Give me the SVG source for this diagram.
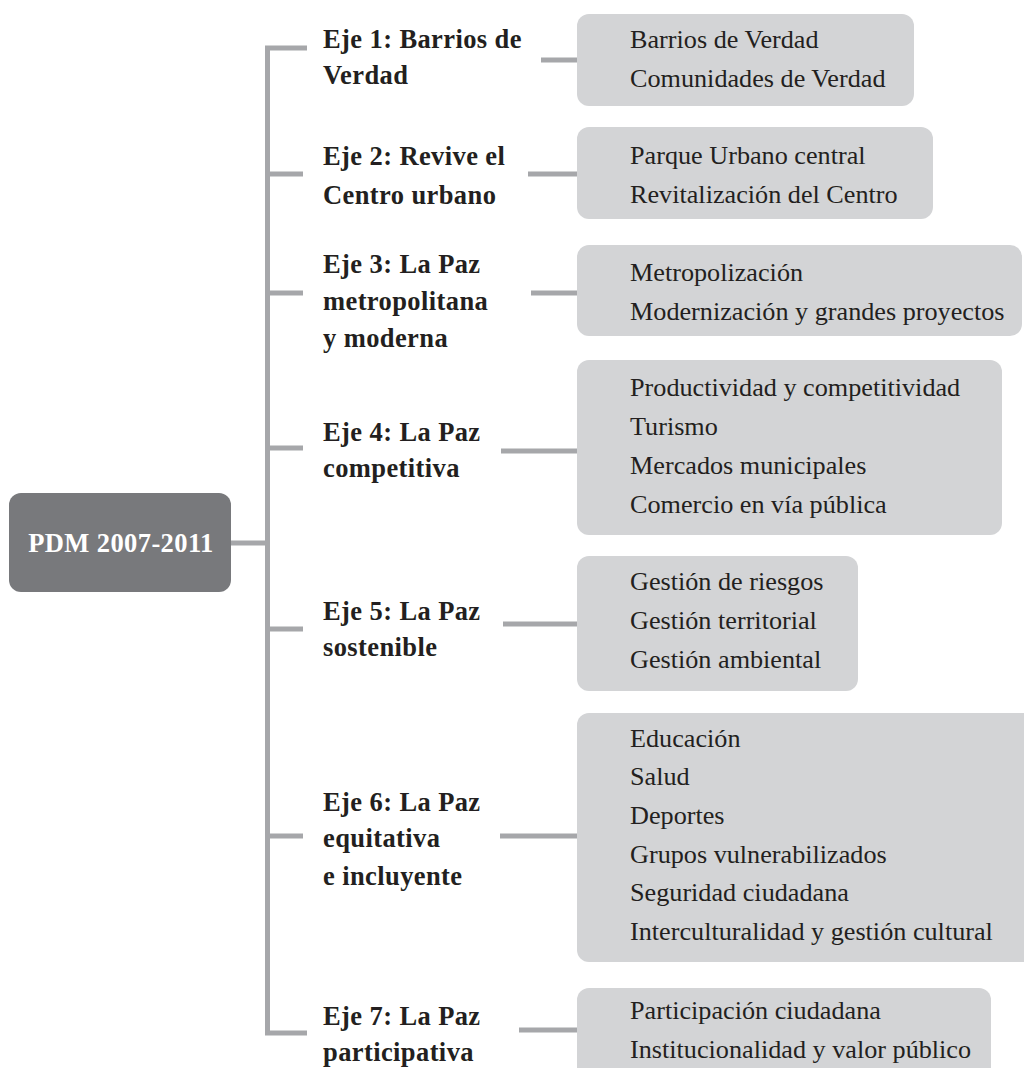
<svg xmlns="http://www.w3.org/2000/svg" width="1024" height="1068" viewBox="0 0 1024 1068">
<style>
.box{fill:#d3d4d6}
.root{fill:#78797c}
.ln{stroke:#a6a7aa;stroke-width:5;fill:none}
.lab{font-family:"Liberation Serif",serif;font-weight:bold;font-size:26.5px;letter-spacing:0.4px;fill:#231f20}
.it{font-family:"Liberation Serif",serif;font-size:26.2px;fill:#231f20}
.rt{font-family:"Liberation Serif",serif;font-weight:bold;font-size:26.5px;letter-spacing:0.4px;fill:#ffffff}
</style>
<rect width="1024" height="1068" fill="#ffffff"/>
<g id="connectors">
<path class="ln" d="M231 543H267.5M307 48H267.5V1033H307"/>
<path class="ln" d="M267.5 174H303M267.5 293H303M267.5 448H303M267.5 629H303M267.5 836H303"/>
<path class="ln" d="M541 60H578M528 174H578M531 293H578M501 451H578M503 624H578M500 836H578M519 1030H578"/>
</g>
<g id="root">
<rect class="root" x="9" y="493" width="222" height="99" rx="12"/>
<text class="rt" x="121" y="552" text-anchor="middle">PDM 2007-2011</text>
</g>
<g id="eje1">
<text class="lab" x="323" y="48">Eje 1: Barrios de</text>
<text class="lab" x="323" y="84">Verdad</text>
</g>
<g id="eje2">
<text class="lab" x="323" y="165">Eje 2: Revive el</text>
<text class="lab" x="323" y="204">Centro urbano</text>
</g>
<g id="eje3">
<text class="lab" x="323" y="273">Eje 3: La Paz</text>
<text class="lab" x="323" y="310">metropolitana</text>
<text class="lab" x="323" y="347">y moderna</text>
</g>
<g id="eje4">
<text class="lab" x="323" y="441">Eje 4: La Paz</text>
<text class="lab" x="323" y="477">competitiva</text>
</g>
<g id="eje5">
<text class="lab" x="323" y="620">Eje 5: La Paz</text>
<text class="lab" x="323" y="656">sostenible</text>
</g>
<g id="eje6">
<text class="lab" x="323" y="811">Eje 6: La Paz</text>
<text class="lab" x="323" y="847">equitativa</text>
<text class="lab" x="323" y="885">e incluyente</text>
</g>
<g id="eje7">
<text class="lab" x="323" y="1025">Eje 7: La Paz</text>
<text class="lab" x="323" y="1061">participativa</text>
</g>
<g id="box1">
<rect class="box" x="577" y="14" width="337" height="92" rx="12"/>
<text class="it" x="630" y="48">Barrios de Verdad</text>
<text class="it" x="630" y="87">Comunidades de Verdad</text>
</g>
<g id="box2">
<rect class="box" x="577" y="127" width="356" height="92" rx="12"/>
<text class="it" x="630" y="164">Parque Urbano central</text>
<text class="it" x="630" y="203">Revitalización del Centro</text>
</g>
<g id="box3">
<rect class="box" x="577" y="245" width="445" height="91" rx="12"/>
<text class="it" x="630" y="281">Metropolización</text>
<text class="it" x="630" y="320">Modernización y grandes proyectos</text>
</g>
<g id="box4">
<rect class="box" x="577" y="360" width="425" height="175" rx="12"/>
<text class="it" x="630" y="396">Productividad y competitividad</text>
<text class="it" x="630" y="435">Turismo</text>
<text class="it" x="630" y="474">Mercados municipales</text>
<text class="it" x="630" y="513">Comercio en vía pública</text>
</g>
<g id="box5">
<rect class="box" x="577" y="556" width="281" height="135" rx="12"/>
<text class="it" x="630" y="590">Gestión de riesgos</text>
<text class="it" x="630" y="629">Gestión territorial</text>
<text class="it" x="630" y="668">Gestión ambiental</text>
</g>
<g id="box6">
<rect class="box" x="577" y="713" width="460" height="249" rx="12"/>
<text class="it" x="630" y="747">Educación</text>
<text class="it" x="630" y="785">Salud</text>
<text class="it" x="630" y="824">Deportes</text>
<text class="it" x="630" y="863">Grupos vulnerabilizados</text>
<text class="it" x="630" y="901">Seguridad ciudadana</text>
<text class="it" x="630" y="940">Interculturalidad y gestión cultural</text>
</g>
<g id="box7">
<rect class="box" x="577" y="988" width="414" height="100" rx="12"/>
<text class="it" x="630" y="1019">Participación ciudadana</text>
<text class="it" x="630" y="1058">Institucionalidad y valor público</text>
</g>
</svg>
